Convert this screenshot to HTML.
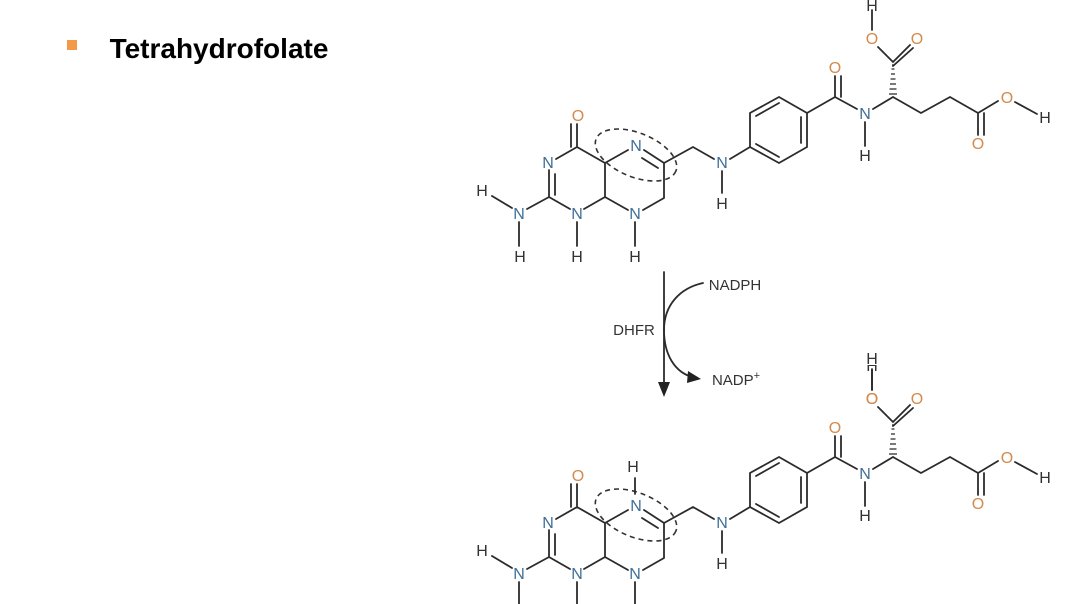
<!DOCTYPE html>
<html><head><meta charset="utf-8"><style>
html,body{margin:0;padding:0;background:#fff;width:1076px;height:604px;overflow:hidden}
svg{display:block}
.b{stroke:#2b2b2b;stroke-width:1.8;fill:none;stroke-linecap:round}
text{font-family:"Liberation Sans",sans-serif;font-size:16px;text-anchor:middle}
.N{fill:#3f6f98}.O{fill:#d48a4c}.H{fill:#333}
</style></head><body>
<svg width="1076" height="604" viewBox="0 0 1076 604">
<rect x="67" y="40" width="10" height="10" fill="#f29a4a"/>
<text x="219" y="58" style="font-size:28px;font-weight:bold;text-anchor:middle;fill:#000">Tetrahydrofolate</text>
<defs>
<g id="mol">
<path class="b" d="M577 147V124M571 147V124M577 147L556 159M549 170V197M555 174V195M549 197L527 209M512 208L492 196M519 222V246M549 197L570 209M577 222V246M584 209L605 197M605 197V163M605 163L577 147M605 163L628 150M644 150L664 163M642 158L658 168M664 163V198M664 198L643 210M628 210L605 197M635 222V246M664 163L693 147L714 159M722 171V193M730 159L750 147"/>
<path class="b" d="M750 147V113L779 97L807 113V147L779 163Z M756 116L779 103 M801 117V143 M779 157L756 144"/>
<path class="b" d="M807 113L835 97V76M841 97V76M835 97L857 109M865 122V146M873 109L893 97M878 47L893 62L910 45M893 66L913 48M872 30V10M893 97L921 113L950 97L978 113V135M984 113V135M978 113L998 101M1015 102L1037 114"/>
<path stroke="#2b2b2b" stroke-width="1.3" d="M889 94h8M889.5 89h7M890 84h6M890.5 79h5M891 74h4M891.5 69h3M892 65h2"/>
<ellipse cx="636" cy="155" rx="43" ry="22" transform="rotate(22 636 155)" fill="none" stroke="#333" stroke-width="1.6" stroke-dasharray="5 4"/>
<text class="O" x="578" y="121">O</text>
<text class="N" x="548" y="168">N</text>
<text class="H" x="482" y="196">H</text>
<text class="N" x="519" y="219">N</text>
<text class="H" x="520" y="262">H</text>
<text class="N" x="577" y="219">N</text>
<text class="H" x="577" y="262">H</text>
<text class="N" x="635" y="219">N</text>
<text class="H" x="635" y="262">H</text>
<text class="N" x="636" y="151">N</text>
<text class="N" x="722" y="168">N</text>
<text class="H" x="722" y="209">H</text>
<text class="O" x="835" y="73">O</text>
<text class="N" x="865" y="119">N</text>
<text class="H" x="865" y="161">H</text>
<text class="O" x="872" y="44">O</text>
<text class="O" x="917" y="44">O</text>
<text class="H" x="872" y="11">H</text>
<text class="O" x="978" y="149">O</text>
<text class="O" x="1007" y="103">O</text>
<text class="H" x="1045" y="123">H</text>
</g>
</defs>
<use href="#mol"/>
<g transform="translate(0,360)">
<use href="#mol"/>
</g>
<path class="b" d="M635 494V478"/>
<text class="H" x="633" y="472">H</text>
<rect x="860" y="355" width="24" height="10" fill="#fff"/>
<text class="H" x="872" y="364">H</text>
<path class="b" d="M872 369V390"/>
<text class="O" x="872" y="404">O</text>
<path class="b" d="M664 272V385"/>
<path d="M658 382L664 397L670 382Z" fill="#222"/>
<path class="b" d="M703 283C680 288 664 305 664 330C664 355 675 372 692 377"/>
<path d="M688 371L701 379L687 383Z" fill="#222"/>
<text x="735" y="290" style="font-size:15px;fill:#333">NADPH</text>
<text x="634" y="335" style="font-size:15px;fill:#333">DHFR</text>
<text x="736" y="385" style="font-size:15px;fill:#333">NADP<tspan dy="-6" style="font-size:11px">+</tspan></text>
</svg>
</body></html>
